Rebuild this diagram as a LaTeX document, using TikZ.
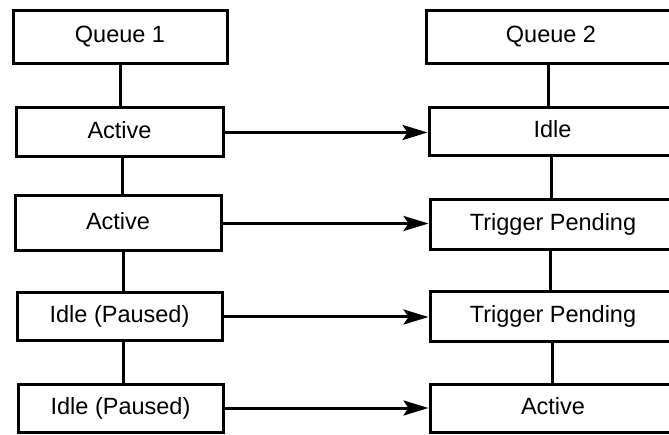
\documentclass[tikz,border=0pt]{standalone}
\usepackage{fontspec}
\setmainfont{Liberation Sans}
\usetikzlibrary{arrows.meta}
\begin{document}
\begin{tikzpicture}[x=1pt,y=-1pt,
  box/.style={draw, line width=3pt, inner sep=0pt, text height=17pt, text depth=5pt,
    font=\fontsize{23.5}{28}\selectfont},
  link/.style={line width=3pt},
  flow/.style={line width=3pt, -{Stealth[length=25pt,width=15pt,inset=5pt]}}]
\useasboundingbox (0,0) rectangle (669,435);
% left column
\node[box, minimum width=214pt, minimum height=53pt] (q1) at (120,37) {Queue 1};
\node[box, minimum width=207pt, minimum height=49pt] (a1) at (119.5,132.5) {Active};
\node[box, minimum width=206pt, minimum height=55pt] (a2) at (118,223.5) {Active};
\node[box, minimum width=205pt, minimum height=48pt] (p1) at (119.5,317) {Idle (Paused)};
\node[box, minimum width=205pt, minimum height=48pt] (p2) at (120.5,408) {Idle (Paused)};
% right column
\node[box, minimum width=250pt, minimum height=53pt] (q2) at (551,37) {Queue 2};
\node[box, minimum width=247pt, minimum height=48pt] (i1) at (552.5,132) {Idle};
\node[box, minimum width=246pt, minimum height=50pt] (t1) at (553,225) {Trigger Pending};
\node[box, minimum width=246pt, minimum height=50pt] (t2) at (553,317) {Trigger Pending};
\node[box, minimum width=246pt, minimum height=48pt] (r4) at (553,408) {Active};
% vertical links
\draw[link] (q1.south) -- (q1.south |- a1.north);
\draw[link] ([xshift=3pt]a1.south) -- ([xshift=3pt]a1.south |- a2.north);
\draw[link] ([xshift=5pt]a2.south) -- ([xshift=5pt]a2.south |- p1.north);
\draw[link] ([xshift=4pt]p1.south) -- ([xshift=4pt]p1.south |- p2.north);
\draw[link] ([xshift=-3pt]q2.south) -- ([xshift=-3pt]q2.south |- i1.north);
\draw[link] ([xshift=-1pt]i1.south) -- ([xshift=-1pt]i1.south |- t1.north);
\draw[link] ([xshift=-3pt]t1.south) -- ([xshift=-3pt]t1.south |- t2.north);
\draw[link] ([xshift=-1pt]t2.south) -- ([xshift=-1pt]t2.south |- r4.north);
% arrows
\draw[flow] (a1.east) -- (a1.east -| i1.west);
\draw[flow] (a2.east) -- (a2.east -| t1.west);
\draw[flow] (p1.east) -- (p1.east -| t2.west);
\draw[flow] (p2.east) -- (p2.east -| r4.west);
\end{tikzpicture}
\end{document}
